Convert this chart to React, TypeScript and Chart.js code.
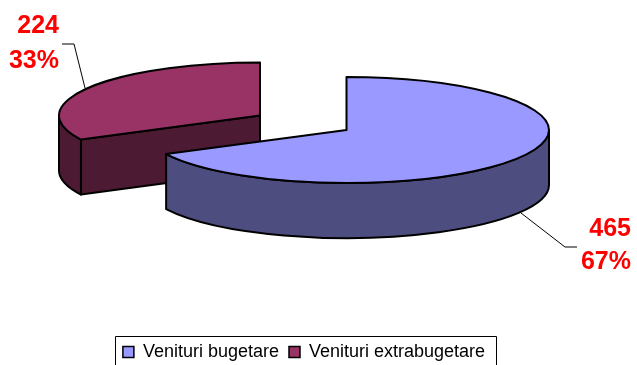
import React, { useEffect, useRef } from "react";
import { Chart, registerables, PieController } from "chart.js";

const categories = ["Venituri bugetare", "Venituri extrabugetare"];
const values = [465, 224];
const percents = ["67%", "33%"];
const topColors = ["#9999FF", "#993366"];
const wallColors = ["#4D4D80", "#4D1A33"];

// layout of the exploded, tilted pie
const radiiX = [202.5, 201];
const RY = 53;
const DEPTH = 55;
const centers = [[346.5, 130], [260, 115.5]];
const valueLabelAt = [[631, 236], [59, 33]];
const percentLabelAt = [[631, 269], [59, 68]];
const leaders = [
  [[521, 213], [565, 247], [577, 247]],
  [[85, 88], [74, 44], [62, 44]],
];

class Pie3DController extends PieController {
  static id = "pie3d";
  static defaults = PieController.defaults;
  static overrides = PieController.overrides;

  draw() {
    const ctx: CanvasRenderingContext2D = (this as any).chart.ctx;
    const arcs: any[] = (this as any)._cachedMeta.data;
    const stroke = () => {
      ctx.lineWidth = 2;
      ctx.strokeStyle = "#000";
      ctx.lineJoin = "round";
      ctx.stroke();
    };
    // back slice first so the front slice covers it
    [1, 0].forEach((i) => {
      const arc = arcs[i];
      const [cx, cy] = centers[i];
      const RX = radiiX[i];
      const s = arc.startAngle;
      const e = arc.endAngle;
      ctx.save();
      ctx.fillStyle = wallColors[i];
      // cut face
      const faces = [];
      if (Math.cos(s) < 0) faces.push(s);
      if (Math.cos(e) > 0) faces.push(e);
      faces.forEach((a) => {
        const px = cx + RX * Math.cos(a);
        const py = cy + RY * Math.sin(a);
        ctx.beginPath();
        ctx.moveTo(cx, cy);
        ctx.lineTo(px, py);
        ctx.lineTo(px, py + DEPTH);
        ctx.lineTo(cx, cy + DEPTH);
        ctx.closePath();
        ctx.fill();
        stroke();
      });
      // outer wall
      const a0 = Math.max(s, 0);
      const a1 = Math.min(e, Math.PI);
      if (a1 > a0) {
        ctx.beginPath();
        ctx.ellipse(cx, cy, RX, RY, 0, a0, a1);
        ctx.lineTo(cx + RX * Math.cos(a1), cy + RY * Math.sin(a1) + DEPTH);
        ctx.ellipse(cx, cy + DEPTH, RX, RY, 0, a1, a0, true);
        ctx.closePath();
        ctx.fill();
        stroke();
      }
      ctx.restore();
      // top, the library's own arc element under a tilt
      ctx.save();
      ctx.translate(cx, cy);
      ctx.scale(RX / arc.outerRadius, RY / arc.outerRadius);
      ctx.translate(-arc.x, -arc.y);
      arc.draw(ctx);
      ctx.restore();
      ctx.beginPath();
      ctx.moveTo(cx, cy);
      ctx.ellipse(cx, cy, RX, RY, 0, s, e);
      ctx.closePath();
      stroke();
    });
    // leader lines and data labels
    ctx.save();
    leaders.forEach((pts) => {
      ctx.beginPath();
      pts.forEach(([x, y], k) => (k ? ctx.lineTo(x, y) : ctx.moveTo(x, y)));
      ctx.lineWidth = 1;
      ctx.strokeStyle = "#000";
      ctx.stroke();
    });
    ctx.fillStyle = "#FF0000";
    ctx.font = "bold 25px 'Liberation Sans'";
    ctx.textAlign = "right";
    ctx.textBaseline = "alphabetic";
    values.forEach((v, i) => {
      ctx.fillText(String(v), valueLabelAt[i][0], valueLabelAt[i][1]);
      ctx.fillText(percents[i], percentLabelAt[i][0], percentLabelAt[i][1]);
    });
    ctx.restore();
  }
}

Chart.register(...registerables, Pie3DController);

const legendFrame = {
  id: "legendFrame",
  afterDraw(chart: any) {
    const { ctx } = chart;
    ctx.save();
    ctx.strokeStyle = "#000";
    ctx.lineWidth = 1;
    ctx.strokeRect(115.5, 336.5, 381, 40);
    ctx.restore();
  },
};

export default function App() {
  const ref = useRef<HTMLCanvasElement>(null);
  useEffect(() => {
    document.body.style.margin = "0";
    const chart = new Chart(ref.current as HTMLCanvasElement, {
      type: "pie3d" as any,
      data: {
        labels: categories,
        datasets: [
          {
            data: values,
            backgroundColor: topColors,
            borderWidth: 0,
          },
        ],
      },
      options: {
        responsive: false,
        animation: false,
        events: [],
        layout: { padding: { right: 29, bottom: -6 } },
        plugins: {
          tooltip: { enabled: false },
          legend: {
            position: "bottom",
            labels: {
              boxWidth: 11,
              boxHeight: 11,
              padding: 10,
              color: "#000",
              font: { family: "'Liberation Sans'", size: 18 },
              generateLabels: (c: any) =>
                (PieController as any).overrides.plugins.legend.labels
                  .generateLabels(c)
                  .map((l: any) => ({ ...l, strokeStyle: "#000", lineWidth: 1.5 })),
            },
          },
        },
      } as any,
      plugins: [legendFrame],
    });
    return () => chart.destroy();
  }, []);
  return (
    <div style={{ position: "absolute", left: 0, top: 0, width: 637, height: 365, overflow: "hidden" }}>
      <canvas ref={ref} width={637} height={365} style={{ display: "block" }} />
    </div>
  );
}
